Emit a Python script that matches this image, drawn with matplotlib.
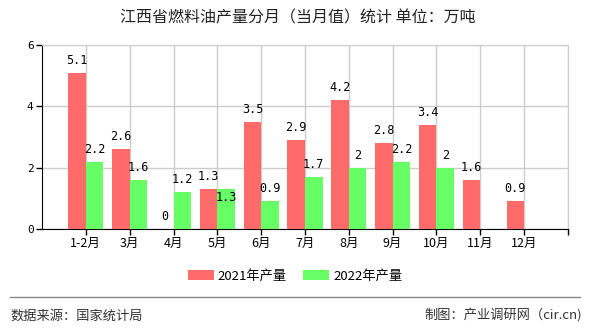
import numpy as np
import matplotlib
matplotlib.use("Agg")
import matplotlib.pyplot as plt
from matplotlib.patches import Patch

plt.rcParams['font.family'] = ['Noto Sans CJK SC', 'DejaVu Sans']

months = ['1-2月', '3月', '4月', '5月', '6月', '7月', '8月', '9月', '10月', '11月', '12月']
prod_2021 = [5.1, 2.6, 0, 1.3, 3.5, 2.9, 4.2, 2.8, 3.4, 1.6, 0.9]
prod_2022 = [2.2, 1.6, 1.2, 1.3, 0.9, 1.7, 2, 2.2, 2, np.nan, np.nan]
y_ticks = [0, 2, 4, 6]

red = '#ff6a6a'
green = '#66ff66'
num_font = 'DejaVu Sans Mono'

fig = plt.figure(figsize=(5.9, 3.3), dpi=100)
ax = fig.add_axes([42/590, 1 - 229/330, (568 - 42)/590, (229 - 45)/330])

x = np.arange(len(months))
w = 0.4
ax.bar(x - w/2, prod_2021, width=w, color=red, zorder=3)
ax.bar(x + w/2, prod_2022, width=w, color=green, zorder=3)

def fmt(v):
    return '%g' % v

for i in range(len(months)):
    a = prod_2021[i]
    b = prod_2022[i]
    ax.annotate(fmt(a), (x[i] - w/2, a), xytext=(0, 6), textcoords='offset pixels',
                ha='center', va='bottom', fontsize=8.5, family=num_font, zorder=4)
    if not np.isnan(b):
        # same height as the red label -> pushed down into the bar
        dy = -15 if b == a else 6
        ax.annotate(fmt(b), (x[i] + w/2, b), xytext=(0, dy), textcoords='offset pixels',
                    ha='center', va='bottom', fontsize=8.5, family=num_font, zorder=4)

ax.set_xlim(-1, len(months))
ax.set_ylim(0, 6)
ax.set_yticks(y_ticks)
ax.set_yticklabels([str(t) for t in y_ticks], family=num_font, fontsize=8)
ax.set_xticks(list(x) + [len(months)])
ax.set_xticklabels(months + [''], fontsize=9)
ax.tick_params(axis='both', length=4, width=1, color='black', pad=2)
ax.grid(True, color='#cccccc', linewidth=1, zorder=0)
ax.set_axisbelow(True)
for s in ['top', 'right']:
    ax.spines[s].set_color('#cccccc')
for s in ['left', 'bottom']:
    ax.spines[s].set_color('black')

fig.text(0.505, 0.945, '江西省燃料油产量分月（当月值）统计 单位：万吨', ha='center', va='center',
         fontsize=11.5, color='#222222')

handles = [Patch(facecolor=red, label='2021年产量'), Patch(facecolor=green, label='2022年产量')]
fig.legend(handles=handles, loc='center', bbox_to_anchor=(0.5, 1 - 276/330), ncol=2,
           frameon=False, fontsize=9.5, handlelength=2.0, handleheight=0.8,
           handletextpad=0.3, columnspacing=1.2)

fig.add_artist(plt.Line2D([10/590, 580/590], [1 - 297/330, 1 - 297/330], color='#888888', linewidth=1))
fig.text(10/590, 1 - 316/330, '数据来源：国家统计局', ha='left', va='center', fontsize=9.5, color='#333333')
fig.text(582/590, 1 - 316/330, '制图：产业调研网（cir.cn)', ha='right', va='center', fontsize=9.5, color='#333333')

fig.savefig('out.png', dpi=100)
